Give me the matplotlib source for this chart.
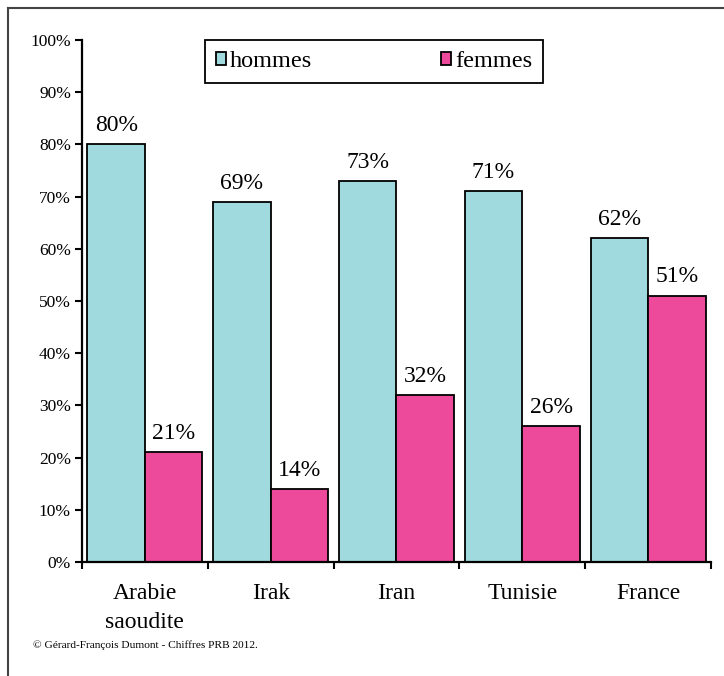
import matplotlib.pyplot as plt
from matplotlib.lines import Line2D
import numpy as np

plt.rcParams['font.family'] = ['Liberation Serif', 'DejaVu Serif']

pays = ['Arabie\nsaoudite', 'Irak', 'Iran', 'Tunisie', 'France']
hommes = [80, 69, 73, 71, 62]
femmes = [21, 14, 32, 26, 51]
couleur_h = '#A1DADE'
couleur_f = '#EE4A9C'

fig = plt.figure(figsize=(7.24, 6.76), dpi=100)
ax = fig.add_axes([0.1133, 0.1686, 0.8687, 0.7722])

x = np.arange(len(pays))
w = 0.457
b1 = ax.bar(x - w / 2, hommes, w, color=couleur_h, edgecolor='black', linewidth=1.3, label='hommes')
b2 = ax.bar(x + w / 2, femmes, w, color=couleur_f, edgecolor='black', linewidth=1.3, label='femmes')

for rect, v in zip(list(b1) + list(b2), hommes + femmes):
    ax.annotate('%d%%' % v, (rect.get_x() + rect.get_width() / 2, v),
                xytext=(0, 6), textcoords='offset points',
                ha='center', va='bottom', fontsize=17)

ax.set_xlim(-0.5, len(pays) - 0.5)
ax.set_ylim(0, 100)
ax.set_yticks(range(0, 101, 10))
ax.set_yticklabels(['%d%%' % t for t in range(0, 101, 10)], fontsize=12.5)
ax.set_xticks(np.arange(-0.5, len(pays), 1))
ax.set_xticklabels([])
ax.set_xticks(x, minor=True)
ax.set_xticklabels(pays, minor=True, fontsize=17, linespacing=1.5)
ax.tick_params(axis='x', which='minor', length=0, pad=15)
ax.tick_params(axis='x', which='major', length=5, width=1.5, direction='out')
ax.tick_params(axis='y', length=5, width=1.5, direction='out', pad=3)

for s in ['top', 'right']:
    ax.spines[s].set_visible(False)
for s in ['left', 'bottom']:
    ax.spines[s].set_linewidth(1.6)

leg = ax.legend(loc='upper center', bbox_to_anchor=(0.4645, 1.0), ncol=2,
                fontsize=17.5, handlelength=0.42, handleheight=0.42, handletextpad=0.15,
                columnspacing=5.3, fancybox=False, borderpad=0.45, borderaxespad=0,
                framealpha=1)
leg.get_frame().set_edgecolor('black')
leg.get_frame().set_linewidth(1.3)

# cadre
fig.add_artist(Line2D([0.0115, 0.0115], [0, 0.9875], transform=fig.transFigure, color='#444444', lw=1.5))
fig.add_artist(Line2D([0.0115, 1], [0.9875, 0.9875], transform=fig.transFigure, color='#444444', lw=1.5))

fig.text(0.045, 0.041, '© Gérard-François Dumont - Chiffres PRB 2012.', fontsize=8.2)

fig.savefig('out.png', dpi=100)
